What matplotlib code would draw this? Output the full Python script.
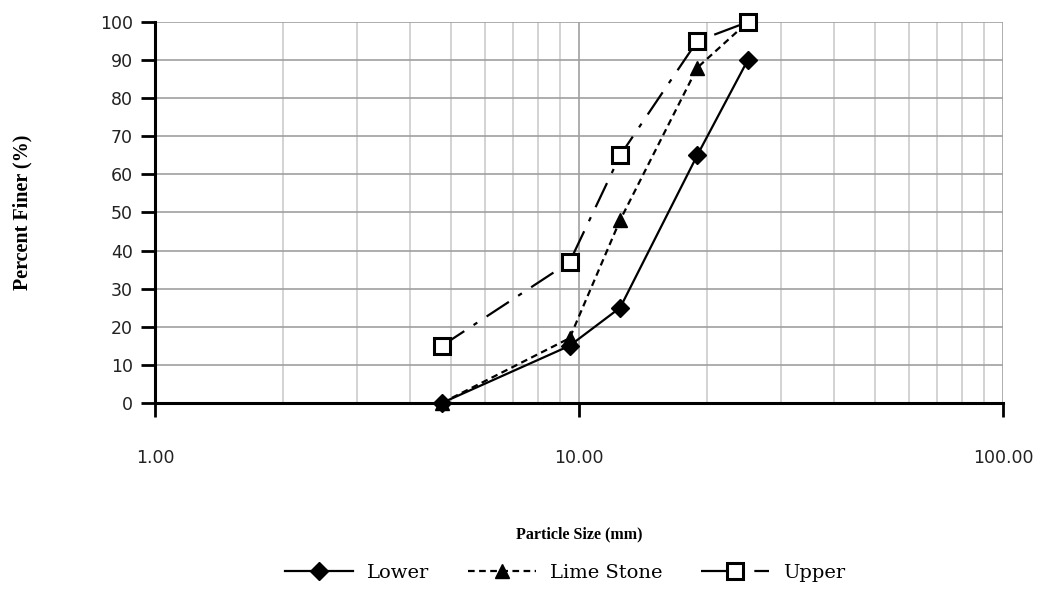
import numpy as np
import matplotlib.pyplot as plt
from matplotlib.ticker import LogLocator, FixedLocator, NullFormatter

sizes = [4.75, 9.5, 12.5, 19, 25]
lower = [0, 15, 25, 65, 90]
lime_stone = [0, 17, 48, 88, 100]
upper = [15, 37, 65, 95, 100]
x_ticks = [1, 10, 100]
x_tick_labels = ['1.00', '10.00', '100.00']
y_ticks = list(range(0, 101, 10))

fig = plt.figure(figsize=(10.41, 5.96), dpi=100)
ax = fig.add_axes([0.149, 0.324, 0.8145, 0.639])

ax.plot(sizes, lower, color='black', lw=1.6, ls='-', marker='D', ms=9,
        mfc='black', mec='black', label='Lower', zorder=3, clip_on=False)
ax.plot(sizes, lime_stone, color='black', lw=1.6, ls=(0, (3, 2)), marker='^', ms=10,
        mfc='black', mec='black', label='Lime Stone', zorder=3, clip_on=False)
ax.plot(sizes, upper, color='black', lw=1.6, ls=(0, (12, 5, 2, 5)), marker='s', ms=11,
        mfc='white', mec='black', mew=2.2, label='Upper', zorder=4, clip_on=False)

ax.set_xscale('log')
ax.set_xlim(1, 100)
ax.set_ylim(0, 100)

ax.xaxis.set_major_locator(FixedLocator(x_ticks))
ax.set_xticklabels(x_tick_labels)
ax.xaxis.set_minor_locator(LogLocator(base=10, subs=np.arange(2, 10)))
ax.xaxis.set_minor_formatter(NullFormatter())
ax.set_yticks(y_ticks)

ax.grid(True, which='major', axis='both', color='#a0a0a0', lw=1.2)
ax.grid(True, which='minor', axis='x', color='#cccccc', lw=1.2)
ax.set_axisbelow(True)

for s in ['top', 'right']:
    ax.spines[s].set_visible(False)
ax.spines['left'].set_linewidth(2.2)
ax.spines['bottom'].set_linewidth(2.2)

ax.tick_params(axis='x', which='major', direction='out', length=10, width=2,
               pad=23, labelsize=12.5, labelcolor='#222222')
ax.tick_params(axis='x', which='minor', length=0)
ax.tick_params(axis='y', which='major', direction='out', length=10, width=2,
               pad=6, labelsize=12.5, labelcolor='#222222')

ax.set_xlabel('Particle Size (mm)', family='Liberation Serif', fontweight='bold',
              fontsize=11.5)
ax.set_ylabel('Percent Finer (%)', family='Liberation Serif', fontweight='bold',
              fontsize=14.5)
ax.xaxis.set_label_coords(0.5, -0.325)
ax.yaxis.set_label_coords(-0.145, 0.5)

leg = fig.legend(loc='center', bbox_to_anchor=(0.543, 0.039), ncol=3, frameon=False,
                 prop={'family': 'DejaVu Serif', 'size': 14}, handlelength=3.5,
                 columnspacing=2.0, handletextpad=0.7)

fig.savefig('out.png', dpi=100)
